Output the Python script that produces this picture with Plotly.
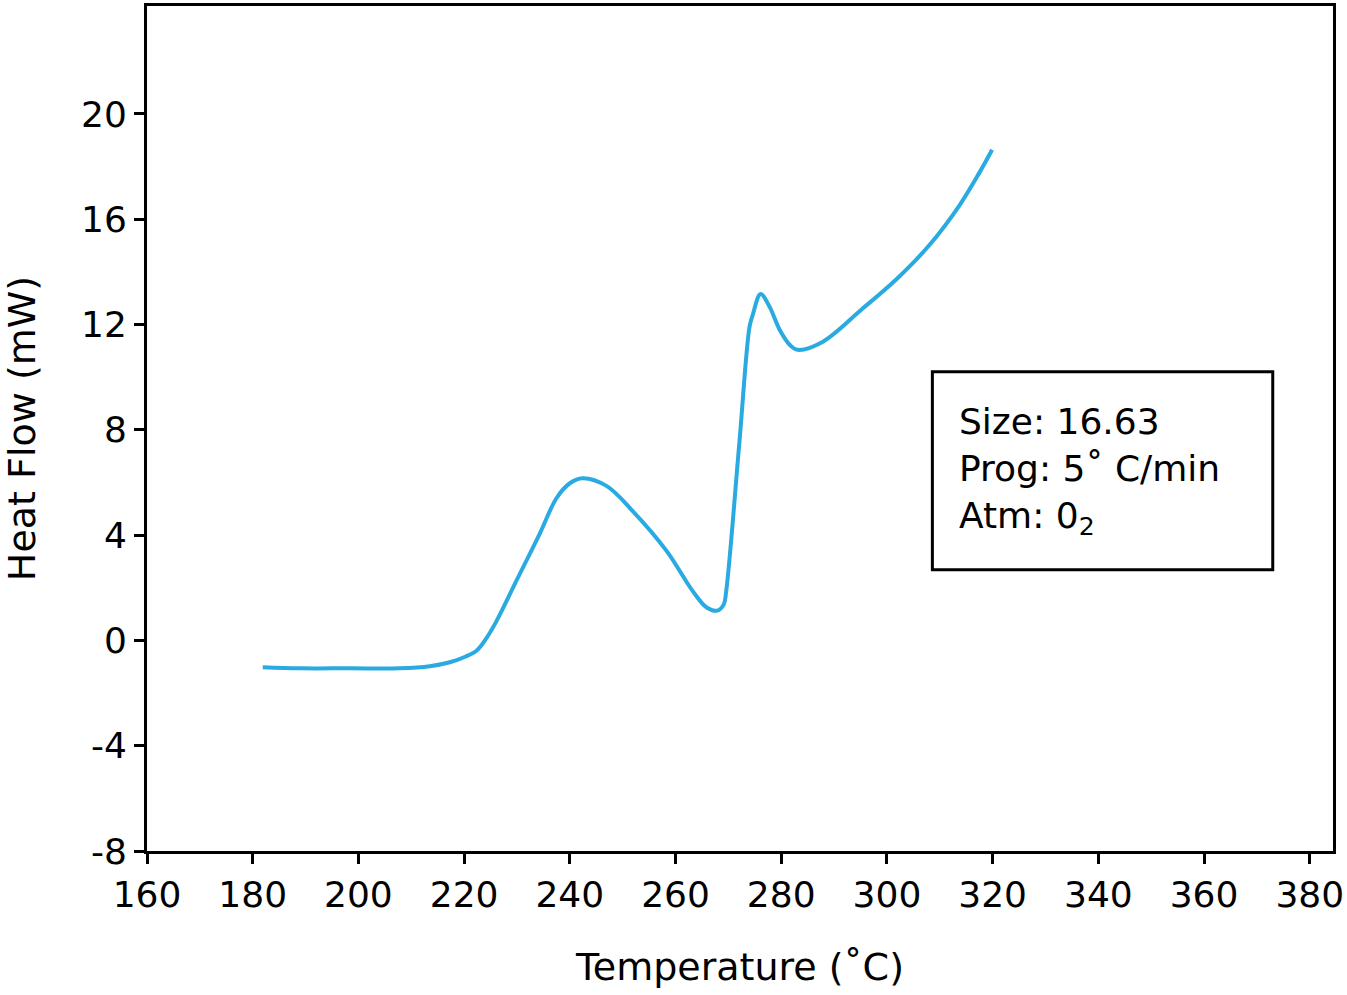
import plotly.graph_objects as go

# DSC curve
temperature = [181.9, 188.9, 198.4, 207.8, 213.5, 217.3, 220.2, 222.4, 224.3, 226.2,
               229.9, 234.3, 237.5, 240.0, 242.4, 247.0, 251.9, 258.3, 263.2, 265.9,
               267.9, 269.1, 269.6, 272.1, 274.0, 274.6, 276.1, 277.8, 279.7, 281.6,
               283.1, 287.8, 295.3, 301.8, 308.0, 313.7, 317.5, 319.9]
heat_flow = [-1.02, -1.06, -1.06, -1.06, -0.98, -0.83, -0.62, -0.38, 0.11, 0.76,
             2.27, 4.05, 5.41, 5.97, 6.16, 5.86, 4.91, 3.40, 1.89, 1.25,
             1.13, 1.36, 1.89, 7.56, 11.91, 12.36, 13.16, 12.67, 11.80, 11.23,
             11.04, 11.34, 12.59, 13.72, 15.01, 16.52, 17.77, 18.64]

x_ticks = [160, 180, 200, 220, 240, 260, 280, 300, 320, 340, 360, 380]
y_ticks = [-8, -4, 0, 4, 8, 12, 16, 20]
y_labels = ["-8", "-4", "0", "4", "8", "12", "16", "20"]
info_lines = ["Size: 16.63", "Prog: 5˚ C/min", "Atm: 0<sub>2</sub>"]

font_name = "DejaVu Sans"

fig = go.Figure()
fig.add_trace(go.Scatter(x=temperature, y=heat_flow, mode="lines",
                         line=dict(color="#29abe2", width=4, shape="spline", smoothing=1.0),
                         showlegend=False))

axis_style = dict(showline=True, linecolor="black", linewidth=3, mirror=True,
                  ticks="outside", ticklen=10, tickwidth=3, tickcolor="black",
                  showgrid=False, zeroline=False,
                  tickfont=dict(family=font_name, size=36, color="black"))

fig.update_layout(
    width=1347, height=995,
    paper_bgcolor="white", plot_bgcolor="white",
    margin=dict(l=147, r=13, t=3, b=144),
    xaxis=dict(range=[160, 384.4], tickvals=x_ticks,
               title=dict(text="Temperature (˚C)", font=dict(family=font_name, size=38, color="black"), standoff=40),
               **axis_style),
    yaxis=dict(range=[-8, 24.1], tickvals=y_ticks, ticktext=y_labels,
               title=dict(text="Heat Flow (mW)", font=dict(family=font_name, size=38, color="black"), standoff=34),
               **axis_style),
)

# info box
fig.add_shape(type="rect", xref="x", yref="y", x0=308.6, x1=373.0, y0=2.68, y1=10.21,
              line=dict(color="black", width=3), fillcolor="white")
fig.add_annotation(xref="x", yref="y", x=313.2, y=6.45, xanchor="left", yanchor="middle",
                   text="<br>".join(info_lines), align="left", showarrow=False,
                   font=dict(family=font_name, size=36, color="black"))

fig.write_html("out.html", config={"displayModeBar": False},
               post_script="document.body.style.margin='0';")
